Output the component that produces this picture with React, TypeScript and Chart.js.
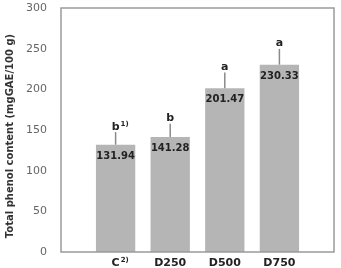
import React, { useEffect, useRef } from "react";
import { Chart, registerables } from "chart.js";

Chart.register(...registerables);

const categories = ["C", "D250", "D500", "D750"];
const categorySups = ["2)", "", "", ""];
const means = [131.94, 141.28, 201.47, 230.33];
const errors = [15.5, 16.3, 19.1, 19.4];
const letters = ["b", "b", "a", "a"];
const letterSups = ["1)", "", "", ""];
const yMin = 0;
const yMax = 300;
const yStep = 50;
const yTitle = "Total phenol content (mgGAE/100 g)";

const FONT = "'DejaVu Sans', sans-serif";

export default function App() {
  const ref = useRef<HTMLCanvasElement | null>(null);

  useEffect(() => {
    document.body.style.margin = "0";
    const canvas = ref.current;
    if (!canvas) return;

    const labels = ["", ...categories, ""];
    const data = [null, ...means, null];

    const overlay = {
      id: "overlay",
      afterDatasetsDraw(chart: any) {
        const ctx = chart.ctx as CanvasRenderingContext2D;
        const area = chart.chartArea;
        const xs = chart.scales.x;
        const ys = chart.scales.y;
        ctx.save();
        // frame
        ctx.strokeStyle = "#9a9a9a";
        ctx.lineWidth = 1.5;
        ctx.strokeRect(area.left, area.top, area.right - area.left, area.bottom - area.top);

        categories.forEach((cat, i) => {
          const x = xs.getPixelForValue(i + 1);
          const top = ys.getPixelForValue(means[i]);
          const errTop = ys.getPixelForValue(means[i] + errors[i]);
          // error bar
          ctx.strokeStyle = "#8a8a8a";
          ctx.lineWidth = 1.5;
          ctx.beginPath();
          ctx.moveTo(x, top);
          ctx.lineTo(x, errTop);
          ctx.stroke();
          // value label
          ctx.fillStyle = "#222";
          ctx.font = `bold 10px ${FONT}`;
          ctx.textAlign = "center";
          ctx.textBaseline = "middle";
          ctx.fillText(means[i].toFixed(2), x, top + 11.5);
          // letter
          ctx.font = `bold 11px ${FONT}`;
          ctx.textBaseline = "alphabetic";
          ctx.fillText(letters[i], x, errTop - 2.5);
          if (letterSups[i]) {
            const w = ctx.measureText(letters[i]).width;
            ctx.font = `bold 7px ${FONT}`;
            ctx.textAlign = "left";
            ctx.fillText(letterSups[i], x + w / 2 + 1, errTop - 6);
          }
          // category label
          ctx.fillStyle = "#222";
          ctx.font = `bold 11px ${FONT}`;
          ctx.textAlign = "center";
          ctx.textBaseline = "alphabetic";
          const by = area.bottom + 13.5;
          ctx.fillText(cat, x, by);
          if (categorySups[i]) {
            const w = ctx.measureText(cat).width;
            ctx.font = `bold 7px ${FONT}`;
            ctx.textAlign = "left";
            ctx.fillText(categorySups[i], x + w / 2 + 1, by - 4);
          }
        });

        // y title
        ctx.fillStyle = "#333";
        ctx.font = `bold 10px ${FONT}`;
        ctx.textAlign = "center";
        ctx.textBaseline = "middle";
        ctx.translate(10, 136);
        ctx.rotate(-Math.PI / 2);
        ctx.fillText(yTitle, 0, 0);
        ctx.restore();
      },
    };

    const chart = new Chart(canvas, {
      type: "bar",
      data: {
        labels,
        datasets: [
          {
            data,
            backgroundColor: "#b5b5b5",
            borderWidth: 0,
          },
        ],
      },
      options: {
        animation: false,
        responsive: false,
        maintainAspectRatio: false,
        layout: { padding: { top: 8, right: 7, left: 0, bottom: 0 } },
        plugins: {
          legend: { display: false },
          tooltip: { enabled: false },
        },
        scales: {
          x: {
            offset: false,
            grid: { display: false, drawTicks: false },
            border: { display: false },
            ticks: { display: false },
            afterFit(scale: any) {
              scale.height = 16;
              scale.paddingLeft = 0;
              scale.paddingRight = 0;
            },
          },
          y: {
            min: yMin,
            max: yMax,
            grid: { display: false, drawTicks: false },
            border: { display: false },
            ticks: {
              stepSize: yStep,
              color: "#666",
              padding: 14,
              font: { family: FONT, size: 11 },
            },
            afterFit(scale: any) {
              scale.width = 61;
              scale.paddingTop = 6;
              scale.paddingBottom = 6;
            },
          },
        },
      },
      plugins: [overlay],
    });

    return () => chart.destroy();
  }, []);

  return (
    <div style={{ width: 341, height: 268 }}>
      <canvas ref={ref} width={341} height={268} style={{ display: "block" }} />
    </div>
  );
}
